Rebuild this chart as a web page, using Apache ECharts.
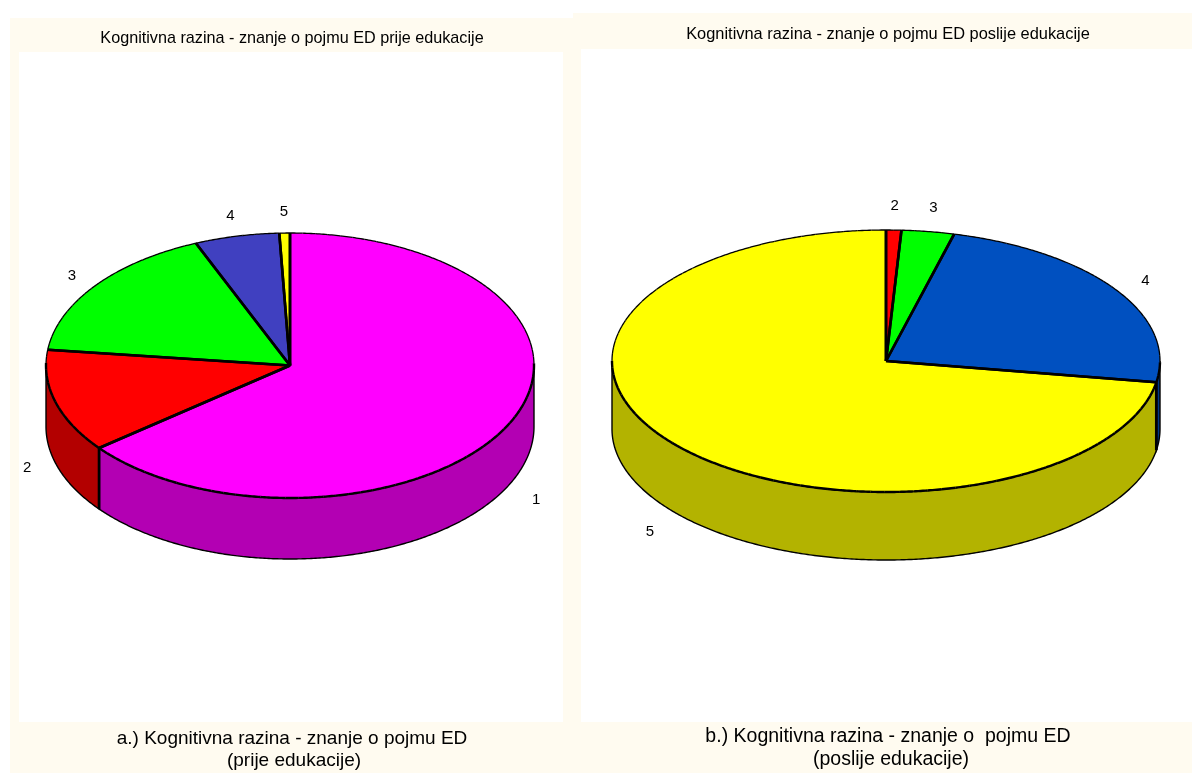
<!DOCTYPE html>
<html><head><meta charset="utf-8">
<style>html,body{margin:0;padding:0;background:#fff}#c{width:1192px;height:773px}</style>
<script src="https://cdn.jsdelivr.net/npm/echarts@6/dist/echarts.min.js"></script>
</head><body><div id="c"></div>
<script>
const categories = ['1', '2', '3', '4', '5'];
const valuesBefore = [64.3, 12.6, 16.8, 5.6, 0.7];
const valuesAfter = [0, 0.9, 3.1, 23.6, 72.4];
const topColorsBefore = ['#FF00FF', '#FF0000', '#00FF00', '#4040C0', '#FFFF00'];
const sideColorsBefore = ['#B300B3', '#B30000', '#00B300', '#2D2D86', '#B3B300'];
const topColorsAfter = ['#FF00FF', '#FF0000', '#00FF00', '#0050C0', '#FFFF00'];
const sideColorsAfter = ['#B300B3', '#B30000', '#00B300', '#003886', '#B3B300'];
const chartTitles = ['Kognitivna razina - znanje o pojmu ED prije edukacije', 'Kognitivna razina - znanje o pojmu ED poslije edukacije'];
const captionsBefore = ['a.) Kognitivna razina - znanje o pojmu ED', '(prije edukacije)'];
const captionsAfter = ['b.) Kognitivna razina - znanje o  pojmu ED', '(poslije edukacije)'];

const FONT = '"Liberation Sans", Arial, sans-serif';
const pieA = {cx: 290, cy: 365.5, rx: 244, ry: 132.5, depth: 61, labelK: 1.12, lift: 7, tops: topColorsBefore, sides: sideColorsBefore, values: valuesBefore};
const pieB = {cx: 886, cy: 361, rx: 274, ry: 131, depth: 68, labelK: 1.13, lift: 10, tops: topColorsAfter, sides: sideColorsAfter, values: valuesAfter};

function pt(p, deg, dy) {
  const a = deg * Math.PI / 180;
  return [p.cx + p.rx * Math.sin(a), p.cy - p.ry * Math.cos(a) + (dy || 0)];
}
function arc(p, a0, a1, dy) {
  const pts = [];
  const n = Math.max(2, Math.ceil(Math.abs(a1 - a0) * 2));
  for (let i = 0; i <= n; i++) pts.push(pt(p, a0 + (a1 - a0) * i / n, dy));
  return pts;
}
function pieRender(p) {
  const total = p.values.reduce((s, v) => s + v, 0);
  return function (params, api) {
    const i = params.dataIndex;
    const v = api.value(0);
    if (!v) return {type: 'group', children: []};
    let before = 0;
    for (let k = 0; k < i; k++) before += p.values[k];
    const a0 = before / total * 360, a1 = (before + v) / total * 360;
    const children = [];
    const w0 = Math.max(a0, 90), w1 = Math.min(a1, 270);
    if (w1 > w0) {
      const pts = arc(p, w0, w1, 0).concat(arc(p, w1, w0, p.depth));
      children.push({type: 'polygon', z2: 1, shape: {points: pts},
        style: {fill: p.sides[i], stroke: '#000', lineWidth: 1.4}});
      if (a0 >= 90 && a0 <= 270) {
        children.push({type: 'line', z2: 2, shape: {x1: pt(p, a0)[0], y1: pt(p, a0)[1], x2: pt(p, a0)[0], y2: pt(p, a0, p.depth)[1]},
          style: {stroke: '#000', lineWidth: 2.8}});
      }
    }
    const top = [[p.cx, p.cy]].concat(arc(p, a0, a1, 0));
    children.push({type: 'polygon', z2: 5, shape: {points: top}, style: {fill: p.tops[i]}});
    const rim = a => (a >= 90 && a <= 270 ? 2.4 : 1.3);
    const nSeg = Math.ceil((a1 - a0) / 3) || 1;
    for (let s2 = 0; s2 < nSeg; s2++) {
      const b0 = a0 + (a1 - a0) * s2 / nSeg, b1 = a0 + (a1 - a0) * (s2 + 1) / nSeg;
      children.push({type: 'polyline', z2: 6, shape: {points: arc(p, b0, b1, 0)},
        style: {stroke: '#000', fill: null, lineWidth: rim((b0 + b1) / 2)}});
    }
    [a0, a1].forEach(a => {
      const e = pt(p, a);
      children.push({type: 'line', z2: 7, shape: {x1: p.cx, y1: p.cy, x2: e[0], y2: e[1]},
        style: {stroke: '#000', lineWidth: 2.6}});
    });
    const mid = (a0 + a1) / 2 * Math.PI / 180;
    const c = Math.cos(mid), s = Math.sin(mid);
    const lx = p.cx + p.rx * p.labelK * s;
    const ly = p.cy - p.ry * 1.11 * c + (c < 0 ? p.depth + (c < -0.3 ? 9 : 1) : -p.lift * Math.pow(c, 4));
    children.push({type: 'text', z2: 8, style: {x: lx, y: ly, text: categories[i], fill: '#000',
      font: '15px ' + FONT, align: 'center', verticalAlign: 'middle'}});
    return {type: 'group', children};
  };
}
function pieSeries(p) {
  return {type: 'custom', coordinateSystem: 'none', renderItem: pieRender(p), silent: true,
    data: p.values.map((v, i) => ({name: categories[i], value: [v]}))};
}
function t(text, x, y, size) {
  return {text, left: x, top: y, textAlign: 'center', textVerticalAlign: 'middle', padding: 0,
    textStyle: {fontFamily: FONT, fontSize: size, fontWeight: 'normal', color: '#000'}};
}
const rect = (x, y, w, h, fill, z) => ({type: 'rect', z: z, silent: true, shape: {x, y, width: w, height: h}, style: {fill}});

const chart = echarts.init(document.getElementById('c'), null, {renderer: 'canvas'});
chart.setOption({
  animation: false,
  backgroundColor: '#FFFFFF',
  graphic: [
    rect(10, 18, 563, 755, '#FFFBF0', -10),
    rect(573, 13, 619, 760, '#FFFBF0', -10),
    rect(19, 52, 544, 670, '#FFFFFF', -9),
    rect(581, 49, 611, 673, '#FFFFFF', -9)
  ],
  title: [
    t(chartTitles[0], 292, 39, 16.2),
    t(chartTitles[1], 888, 34, 16.4),
    t(captionsBefore[0], 292, 739, 19),
    t(captionsBefore[1], 294, 761, 19),
    t(captionsAfter[0], 888, 737, 19.5),
    t(captionsAfter[1], 891, 760, 19.5)
  ],
  series: [pieSeries(pieA), pieSeries(pieB)]
});
</script></body></html>
